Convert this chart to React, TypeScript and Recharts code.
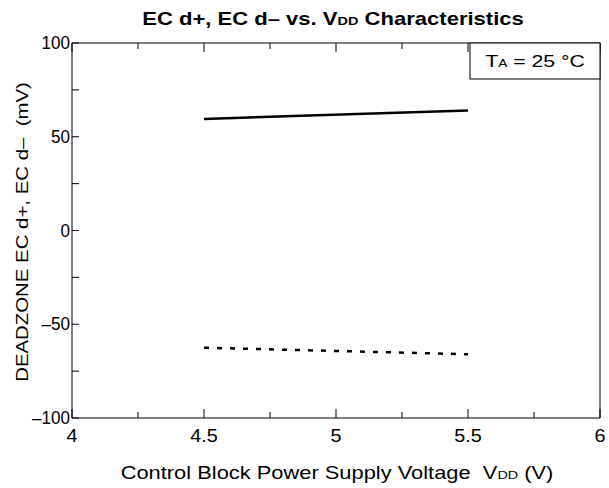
import { Line, LineChart, XAxis, YAxis } from "recharts";

// VDD sweep (V) and deadzone values (mV)
const vdd = [4.5, 5.5];
const ecPlus = [59.5, 64];
const ecMinus = [-62.5, -66];

const xTicks = [4, 4.25, 4.5, 4.75, 5, 5.25, 5.5, 5.75, 6];
const xMajor = [4, 4.5, 5, 5.5, 6];
const yTicks = [-100, -75, -50, -25, 0, 25, 50, 75, 100];
const yMajor = [-100, -50, 0, 50, 100];

const data = vdd.map((v, i) => ({ vdd: v, plus: ecPlus[i], minus: ecMinus[i] }));

const W = 609;
const H = 488;
// plot box: x 72..600, y 43..418 (axes take 1px each)
const M = { top: 42, right: 8, bottom: 69, left: 71 };
const BOX = { left: 72, right: 600, top: 43, bottom: 418 };
const font = "'Liberation Sans', Arial, sans-serif";

const fmt = (v: number) => (v < 0 ? `\u2013${Math.abs(v)}` : String(v));

function BottomTick(props: any) {
  const { x, payload } = props;
  const y = BOX.bottom;
  const major = xMajor.includes(payload.value);
  return (
    <g>
      <line x1={x} x2={x} y1={y} y2={y - (major ? 9 : 6)} stroke="#000" />
      {major && (
        <text
          transform={`translate(${x},${y + 24}) scale(1.1,1)`}
          textAnchor="middle"
          fontSize={18}
          fontFamily={font}
          fill="#000"
        >
          {payload.value}
        </text>
      )}
    </g>
  );
}

function TopTick(props: any) {
  const { x, payload } = props;
  const y = BOX.top;
  const major = xMajor.includes(payload.value);
  return <line x1={x} x2={x} y1={y} y2={y + (major ? 9 : 6)} stroke="#000" />;
}

function LeftTick(props: any) {
  const { y, payload } = props;
  const x = BOX.left;
  const major = yMajor.includes(payload.value);
  return (
    <g>
      <line x1={x} x2={x + 7} y1={y} y2={y} stroke="#000" />
      {major && (
        <text
          transform={`translate(${x - 2},${y + 6}) scale(0.95,1)`}
          textAnchor="end"
          fontSize={18}
          fontFamily={font}
          fill="#000"
        >
          {fmt(payload.value)}
        </text>
      )}
    </g>
  );
}

function RightTick(props: any) {
  const { y } = props;
  const x = BOX.right;
  return <line x1={x} x2={x - 7} y1={y} y2={y} stroke="#000" />;
}

export default function App() {
  return (
    <div style={{ position: "absolute", left: 0, top: 0, width: W, height: H, background: "#fff" }}>
      <LineChart width={W} height={H} data={data} margin={M}>
        <XAxis
          xAxisId="b"
          dataKey="vdd"
          type="number"
          domain={[4, 6]}
          ticks={xTicks}
          interval={0}
          height={1}
          tick={<BottomTick />}
          axisLine={{ stroke: "#000" }}
          tickLine={false}
        />
        <XAxis
          xAxisId="t"
          orientation="top"
          dataKey="vdd"
          type="number"
          domain={[4, 6]}
          ticks={xTicks}
          interval={0}
          height={1}
          tick={<TopTick />}
          axisLine={{ stroke: "#000" }}
          tickLine={false}
        />
        <YAxis
          yAxisId="l"
          type="number"
          domain={[-100, 100]}
          ticks={yTicks}
          interval={0}
          width={1}
          tick={<LeftTick />}
          axisLine={{ stroke: "#000" }}
          tickLine={false}
        />
        <YAxis
          yAxisId="r"
          orientation="right"
          type="number"
          domain={[-100, 100]}
          ticks={yTicks}
          interval={0}
          width={1}
          tick={<RightTick />}
          axisLine={{ stroke: "#000" }}
          tickLine={false}
        />
        <Line
          xAxisId="b"
          yAxisId="l"
          dataKey="plus"
          stroke="#000"
          strokeWidth={2.5}
          dot={false}
          type="linear"
          isAnimationActive={false}
        />
        <Line
          xAxisId="b"
          yAxisId="l"
          dataKey="minus"
          stroke="#000"
          strokeWidth={2.5}
          strokeDasharray="5 8"
          dot={false}
          type="linear"
          isAnimationActive={false}
        />
      </LineChart>
      <svg
        width={W}
        height={H}
        style={{ position: "absolute", left: 0, top: 0, pointerEvents: "none" }}
      >
        <text
          transform="translate(333,25) scale(1.26,1)"
          textAnchor="middle"
          fontSize={17.5}
          fontWeight="bold"
          fontFamily={font}
        >
          EC d+, EC d{"\u2013"} vs. V<tspan fontSize={11.5}>DD</tspan> Characteristics
        </text>
        <rect x={470} y={43} width={130} height={36} fill="#fff" stroke="#000" />
        <text
          transform="translate(535,67) scale(1.25,1)"
          textAnchor="middle"
          fontSize={17}
          fontFamily={font}
        >
          T<tspan fontSize={11}>A</tspan> = 25 °C
        </text>
        <text
          transform="translate(28,232) rotate(-90) scale(1.2,1)"
          textAnchor="middle"
          fontSize={17}
          fontFamily={font}
        >
          DEADZONE EC d+, EC d{"\u2013"}{"\u00a0 "}(mV)
        </text>
        <text
          transform="translate(337,479) scale(1.25,1)"
          textAnchor="middle"
          fontSize={17.5}
          fontFamily={font}
        >
          Control Block Power Supply Voltage{"\u00a0 "}V<tspan fontSize={11.5}>DD</tspan> (V)
        </text>
      </svg>
    </div>
  );
}
